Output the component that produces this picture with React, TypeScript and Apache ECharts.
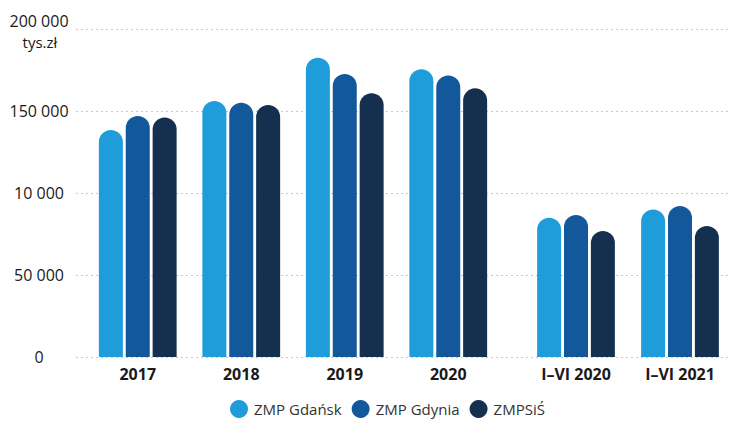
import React, { useEffect, useRef } from "react";
import * as echarts from "echarts";

const yearCategories = ["2017", "2018", "2019", "2020"];
const halfCategories = ["I–VI 2020", "I–VI 2021"];
const seriesNames = ["ZMP Gdańsk", "ZMP Gdynia", "ZMPSiŚ"];
const seriesColors = ["#1f9ddb", "#13589b", "#15304f"];
const gdanskYears = [138400, 156100, 182500, 175400];
const gdyniaYears = [147000, 155100, 172600, 171700];
const zmpsisYears = [146100, 153700, 160800, 163800];
const gdanskHalves = [84900, 90000];
const gdyniaHalves = [86600, 92100];
const zmpsisHalves = [76800, 79900];
const yTickValues = [0, 50000, 100000, 150000, 200000];
const yTickLabels = ["0", "50 000", "10 000", "150 000", "200 000"];
const unitLabel = "tys.zł";

const FONT = "'Open Sans', 'Noto Sans', sans-serif";

export default function App() {
  const ref = useRef<HTMLDivElement>(null);
  useEffect(() => {
    document.body.style.margin = "0";
    if (!ref.current) return;
    const chart = echarts.init(ref.current, undefined, { renderer: "svg" });
    const yearData = [gdanskYears, gdyniaYears, zmpsisYears];
    const halfData = [gdanskHalves, gdyniaHalves, zmpsisHalves];
    const hiddenY = (gridIndex: number) => ({
      type: "value",
      gridIndex,
      min: 0,
      max: 200000,
      interval: 50000,
      show: false,
      splitLine: { show: false },
    });
    const xCat = (gridIndex: number, data: string[], show: boolean) => ({
      type: "category",
      gridIndex,
      data,
      show,
      axisLine: { show: false },
      axisTick: { show: false },
      axisLabel: {
        show,
        color: "#1a1a1a",
        fontFamily: FONT,
        fontWeight: "bold",
        fontSize: 16,
        margin: 9,
      },
    });
    const makeSeries = (data: number[][], xAxisIndex: number) =>
      data.map((d, i) => ({
        name: seriesNames[i],
        type: "bar",
        xAxisIndex,
        yAxisIndex: xAxisIndex,
        data: d,
        barWidth: 24,
        barGap: "12%",
        itemStyle: { color: seriesColors[i], borderRadius: [12, 12, 0, 0] },
      }));
    const lastIdx = yTickValues.length - 1;
    chart.setOption({
      animation: false,
      grid: [
        { left: 76, width: 654, top: 29, bottom: 64 },
        { left: 86, width: 414, top: 29, bottom: 64 },
        { left: 524, width: 208, top: 29, bottom: 64 },
      ],
      xAxis: [
        { type: "category", gridIndex: 0, data: [""], show: false },
        xCat(1, yearCategories, true),
        xCat(2, halfCategories, true),
      ],
      yAxis: [
        {
          type: "value",
          gridIndex: 0,
          min: 0,
          max: 200000,
          interval: 50000,
          axisLine: { show: false },
          axisTick: { show: false },
          splitLine: {
            show: true,
            lineStyle: { color: "#c8c8c8", type: [2, 3], width: 1 },
          },
          axisLabel: {
            align: "center",
            margin: 37,
            color: "#1a1a1a",
            fontFamily: FONT,
            fontSize: 16,
            formatter: (v: number) => {
              const idx = yTickValues.indexOf(v);
              if (idx < 0 || idx === lastIdx) return "";
              return yTickLabels[idx];
            },
          },
        },
        hiddenY(1),
        hiddenY(2),
      ],
      legend: {
        data: seriesNames,
        left: 225,
        top: 395,
        icon: "circle",
        itemWidth: 20,
        itemHeight: 18,
        itemGap: 10,
        textStyle: { color: "#333", fontFamily: FONT, fontSize: 15 },
      },
      graphic: [
        {
          type: "text",
          x: 39,
          y: 21,
          style: {
            text: yTickLabels[lastIdx],
            fill: "#1a1a1a",
            font: `16px ${FONT}`,
            align: "center",
            verticalAlign: "middle",
          },
        },
        {
          type: "text",
          x: 40,
          y: 42,
          style: {
            text: unitLabel,
            fill: "#1a1a1a",
            font: `15px ${FONT}`,
            align: "center",
            verticalAlign: "middle",
          },
        },
      ],
      series: [...makeSeries(yearData, 1), ...makeSeries(halfData, 2)],
    });
    return () => chart.dispose();
  }, []);
  return <div ref={ref} style={{ width: 734, height: 421 }} />;
}
